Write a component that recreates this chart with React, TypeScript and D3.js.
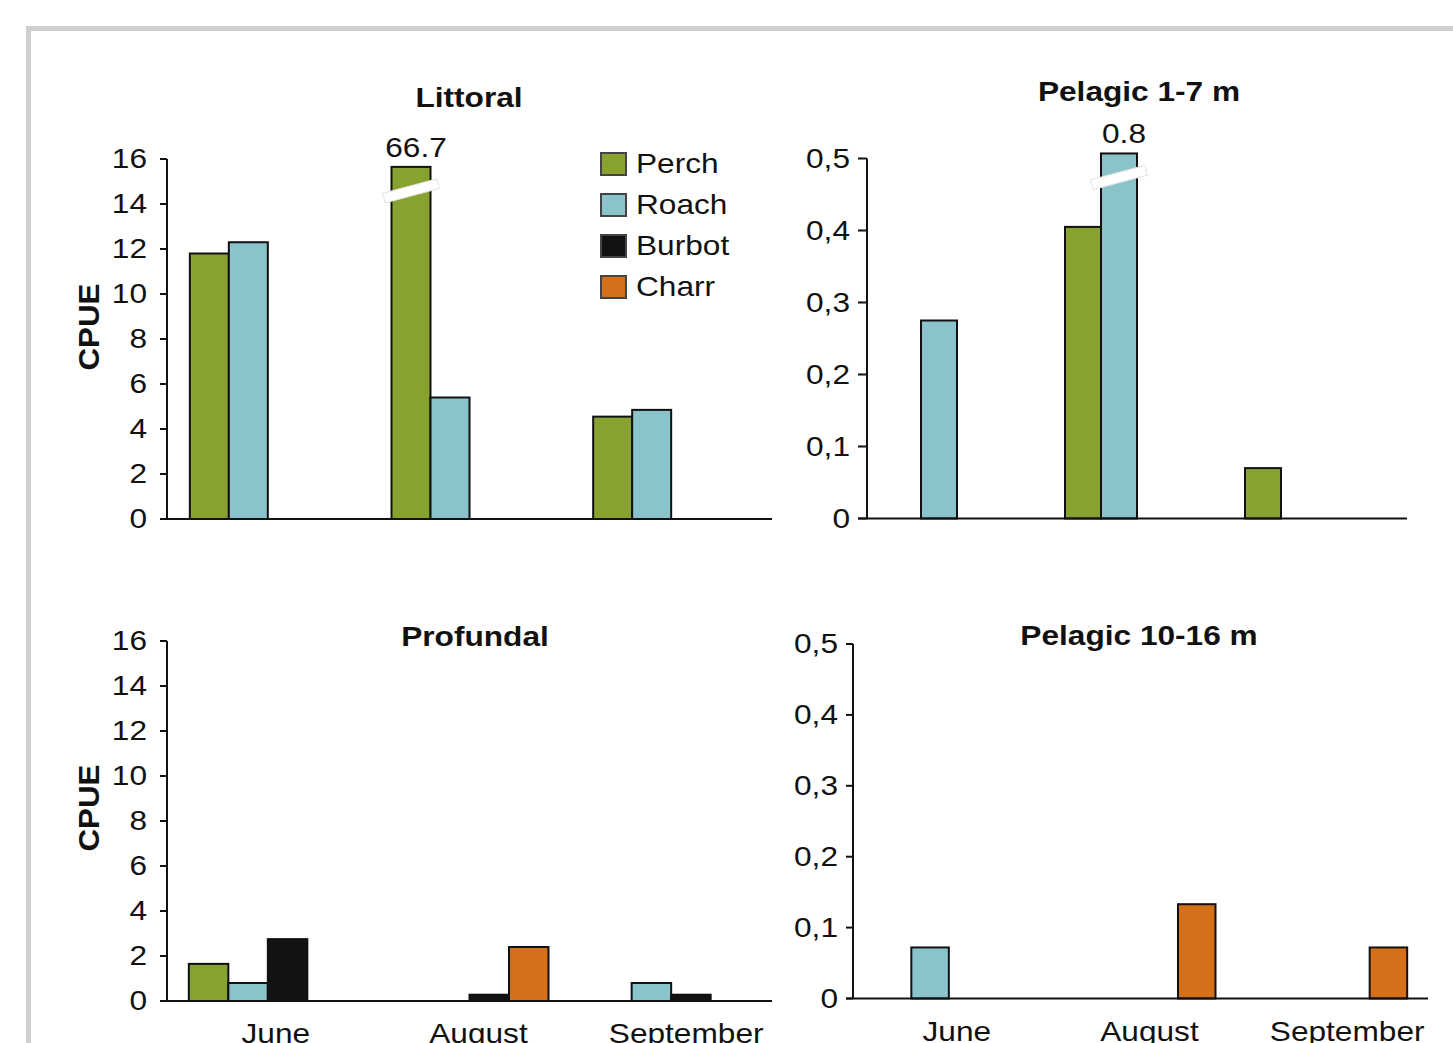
import React from "react";
import * as d3 from "d3";

const months = ["June", "August", "September"];
const species = ["Perch", "Roach", "Burbot", "Charr"];
const speciesColors = ["#87a22f", "#8bc3cb", "#111213", "#d46f1a"];

const cpueTicks = [0, 2, 4, 6, 8, 10, 12, 14, 16];
const cpueTickLabels = ["0", "2", "4", "6", "8", "10", "12", "14", "16"];
const pelagicTicks = [0, 0.1, 0.2, 0.3, 0.4, 0.5];
const pelagicTickLabels = ["0", "0,1", "0,2", "0,3", "0,4", "0,5"];

// values per species, by month (June, August, September)
const littoralPerch = [11.8, 66.7, 4.55];
const littoralRoach = [12.3, 5.4, 4.85];
const littoralBurbot = [0, 0, 0];
const littoralCharr = [0, 0, 0];

const pelagicShallowPerch = [0, 0.405, 0.07];
const pelagicShallowRoach = [0.275, 0.8, 0];
const pelagicShallowBurbot = [0, 0, 0];
const pelagicShallowCharr = [0, 0, 0];

const profundalPerch = [1.65, 0, 0];
const profundalRoach = [0.8, 0, 0.8];
const profundalBurbot = [2.75, 0.28, 0.28];
const profundalCharr = [0, 2.4, 0];

const pelagicDeepPerch = [0, 0, 0];
const pelagicDeepRoach = [0.072, 0, 0];
const pelagicDeepBurbot = [0, 0, 0];
const pelagicDeepCharr = [0, 0.133, 0.072];

const FONT = "'Liberation Sans', Arial, Helvetica, sans-serif";
const STRETCH = 1.13;
const monthLabelShift = [8, 9, 15];

type Panel = {
  title: string;
  titleX: number;
  titleY: number;
  series: number[][];
  ticks: number[];
  tickLabels: string[];
  yMax: number;
  axisX: number;
  axisEnd: number;
  baseStart: number;
  yTop: number;
  yBottom: number;
  barW: number;
  labelGap: number;
  breakCap: number;
  showCpue: boolean;
  cpueY: number;
  showMonths: boolean;
};

const panels: Panel[] = [
  {
    title: "Littoral", titleX: 469, titleY: 107,
    series: [littoralPerch, littoralRoach, littoralBurbot, littoralCharr],
    ticks: cpueTicks, tickLabels: cpueTickLabels, yMax: 16,
    axisX: 167, axisEnd: 772, baseStart: 160, yTop: 159, yBottom: 519,
    barW: 39, labelGap: 13, breakCap: 15.65, showCpue: true, cpueY: 327, showMonths: false,
  },
  {
    title: "Pelagic 1-7 m", titleX: 1139, titleY: 101,
    series: [pelagicShallowPerch, pelagicShallowRoach, pelagicShallowBurbot, pelagicShallowCharr],
    ticks: pelagicTicks, tickLabels: pelagicTickLabels, yMax: 0.5,
    axisX: 867, axisEnd: 1407, baseStart: 858, yTop: 158.5, yBottom: 518.5,
    barW: 36, labelGap: 8, breakCap: 0.507, showCpue: false, cpueY: 0, showMonths: false,
  },
  {
    title: "Profundal", titleX: 475, titleY: 646,
    series: [profundalPerch, profundalRoach, profundalBurbot, profundalCharr],
    ticks: cpueTicks, tickLabels: cpueTickLabels, yMax: 16,
    axisX: 167, axisEnd: 772, baseStart: 160, yTop: 641, yBottom: 1001,
    barW: 39.5, labelGap: 13, breakCap: 16, showCpue: true, cpueY: 808, showMonths: true,
  },
  {
    title: "Pelagic 10-16 m", titleX: 1139, titleY: 645,
    series: [pelagicDeepPerch, pelagicDeepRoach, pelagicDeepBurbot, pelagicDeepCharr],
    ticks: pelagicTicks, tickLabels: pelagicTickLabels, yMax: 0.5,
    axisX: 853, axisEnd: 1428, baseStart: 846, yTop: 644, yBottom: 998.5,
    barW: 37.5, labelGap: 8, breakCap: 0.5, showCpue: false, cpueY: 0, showMonths: true,
  },
];

function Txt({ x, y, anchor = "start", size, bold = false, children }:
  { x: number; y: number; anchor?: string; size: number; bold?: boolean; children: React.ReactNode }) {
  return (
    <text transform={`translate(${x},${y}) scale(${STRETCH},1)`} textAnchor={anchor as any}
      fontSize={size} fontWeight={bold ? "bold" : "normal"} fontFamily={FONT} fill="#111">
      {children}
    </text>
  );
}

function PanelView({ p }: { p: Panel }) {
  const y = d3.scaleLinear().domain([0, p.yMax]).range([p.yBottom, p.yTop]);
  const x = d3.scaleBand<string>().domain(months).range([p.axisX, p.axisEnd]);
  const bars: React.ReactNode[] = [];
  const breaks: React.ReactNode[] = [];
  const valueLabels: React.ReactNode[] = [];
  months.forEach((m, mi) => {
    const center = (x(m) as number) + x.bandwidth() / 2;
    const inner = d3.scaleBand<string>().domain(species)
      .range([center - 2 * p.barW, center + 2 * p.barW]);
    species.forEach((s, si) => {
      const v = p.series[si][mi];
      if (!v) return;
      const broken = v > p.yMax;
      const shown = broken ? p.breakCap : v;
      const bx = inner(s) as number;
      const top = y(shown);
      bars.push(
        <rect key={`b-${m}-${s}`} x={bx} y={top} width={inner.bandwidth()} height={y(0) - top}
          fill={speciesColors[si]} stroke="#111" strokeWidth={2} />
      );
      if (broken) {
        const cx = bx + inner.bandwidth() / 2;
        const cy = top + 24;
        breaks.push(
          <g key={`br-${m}-${s}`} transform={`translate(${cx},${cy}) rotate(-15)`}>
            <rect x={-28} y={-5} width={56} height={10} fill="#fff" stroke="#e4e4e4" strokeWidth={1} />
          </g>
        );
        valueLabels.push(
          <Txt key={`vl-${m}-${s}`} x={cx + 5} y={top - 10} anchor="middle" size={28}>{String(v)}</Txt>
        );
      }
    });
  });
  return (
    <g>
      <Txt x={p.titleX} y={p.titleY} anchor="middle" size={28} bold>{p.title}</Txt>
      {p.showCpue && (
        <text transform={`translate(99,${p.cpueY}) rotate(-90)`} textAnchor="middle" fontSize={30}
          fontWeight="bold" fontFamily={FONT} fill="#111" textLength={87} lengthAdjust="spacingAndGlyphs">CPUE</text>
      )}
      {bars}
      {breaks}
      {valueLabels}
      <line x1={p.axisX} x2={p.axisX} y1={p.yTop} y2={p.yBottom} stroke="#111" strokeWidth={2} />
      <line x1={p.baseStart} x2={p.axisEnd} y1={p.yBottom} y2={p.yBottom} stroke="#111" strokeWidth={2} />
      {p.ticks.map((t, i) => (
        <g key={`t-${i}`}>
          <line x1={p.baseStart} x2={p.axisX} y1={y(t)} y2={y(t)} stroke="#111" strokeWidth={2} />
          <Txt x={p.baseStart - p.labelGap} y={y(t) + 9} anchor="end" size={28}>{p.tickLabels[i]}</Txt>
        </g>
      ))}
      {p.showMonths && months.map((m, mi) => (
        <Txt key={`m-${m}`} x={(x(m) as number) + x.bandwidth() / 2 + monthLabelShift[mi]} y={p.yBottom + 42}
          anchor="middle" size={28}>{m}</Txt>
      ))}
    </g>
  );
}

function Legend() {
  return (
    <g>
      {species.map((s, i) => (
        <g key={s}>
          <rect x={601} y={153 + i * 41} width={25} height={22} fill={speciesColors[i]} stroke="#444" strokeWidth={2} />
          <Txt x={636} y={173 + i * 41} size={28}>{s}</Txt>
        </g>
      ))}
    </g>
  );
}

export default function App() {
  return (
    <svg width={1453} height={1043} style={{ position: "absolute", left: 0, top: 0, background: "#fff" }}>
      <rect x={0} y={0} width={1453} height={1043} fill="#fff" />
      <rect x={28.5} y={28.5} width={1500} height={1100} fill="none" stroke="#cfcfcf" strokeWidth={5} />
      {panels.map((p) => <PanelView key={p.title} p={p} />)}
      <Legend />
    </svg>
  );
}
